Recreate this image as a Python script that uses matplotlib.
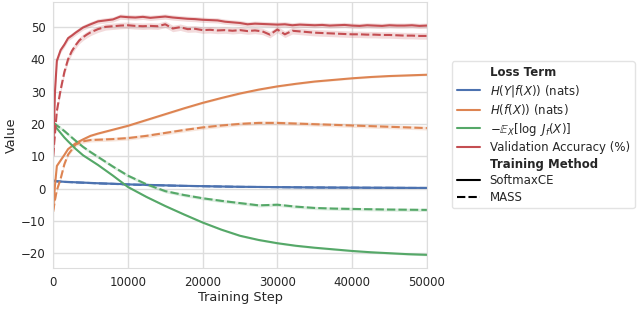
import matplotlib
matplotlib.use("Agg")
import matplotlib.pyplot as plt
from matplotlib.lines import Line2D
import seaborn as sns

sns.set_style("whitegrid")
plt.rcParams['font.family'] = ['DejaVu Sans']

# ---------------- data ----------------
steps_coarse = [0, 250, 500, 1000, 1500, 2000, 3000, 4000, 5000, 6000, 8000, 10000,
                12500, 15000, 17500, 20000, 22500, 25000, 27500, 30000, 32500, 35000,
                37500, 40000, 42500, 45000, 47500, 50000]

hyf_softmax = [2.5, 2.4, 2.3, 2.2, 2.1, 2.05, 1.95, 1.85, 1.75, 1.65, 1.5, 1.3, 1.15, 1.0,
               0.85, 0.75, 0.65, 0.55, 0.5, 0.45, 0.4, 0.35, 0.32, 0.3, 0.27, 0.25, 0.22, 0.2]
hyf_mass = [2.3, 2.25, 2.2, 2.1, 2.05, 2.0, 1.9, 1.8, 1.7, 1.6, 1.45, 1.25, 1.1, 0.95,
            0.82, 0.72, 0.62, 0.53, 0.48, 0.43, 0.38, 0.33, 0.3, 0.28, 0.25, 0.23, 0.2, 0.18]

hf_softmax = [-6.5, 1.0, 7.0, 8.7, 10.4, 12.2, 14.0, 15.2, 16.3, 17.0, 18.2, 19.4, 21.2,
              23.0, 24.8, 26.5, 28.0, 29.4, 30.6, 31.6, 32.4, 33.1, 33.6, 34.1, 34.5,
              34.8, 35.0, 35.2]
hf_mass = [-7.2, -3.5, -0.5, 3.0, 7.5, 10.5, 13.6, 14.6, 15.0, 15.1, 15.3, 15.6, 16.3,
           17.2, 18.1, 18.9, 19.5, 20.0, 20.3, 20.3, 20.1, 19.9, 19.7, 19.5, 19.3,
           19.1, 18.9, 18.7]

jac_softmax = [19.8, 19.3, 18.6, 17.2, 15.8, 14.6, 12.3, 10.3, 8.8, 7.3, 4.0, 0.5, -2.6,
               -5.4, -8.0, -10.5, -12.7, -14.6, -15.9, -16.9, -17.7, -18.3, -18.8,
               -19.3, -19.7, -20.0, -20.3, -20.5]
jac_mass = [20.3, 20.0, 19.5, 18.7, 17.8, 16.8, 14.8, 12.9, 11.3, 9.8, 6.8, 4.0, 1.3,
            -0.8, -2.0, -3.0, -3.8, -4.5, -5.2, -5.0, -5.6, -6.0, -6.2, -6.3, -6.4,
            -6.5, -6.55, -6.6]

steps_fine = [0, 250, 500, 1000, 1500, 2000, 2500, 3000, 3500, 4000, 4500, 5000] + \
             list(range(6000, 50001, 1000))

acc_softmax = [10.0, 30.0, 39.5, 42.8, 44.5, 46.5, 47.3, 48.2, 49.0, 49.8, 50.3, 50.8,
               51.7, 52.0, 52.3, 53.2, 53.0, 52.9, 53.1, 52.8, 53.0, 53.2, 52.9, 52.7,
               52.5, 52.4, 52.2, 52.1, 52.0, 51.6, 51.4, 51.2, 50.8, 51.0, 50.9, 50.8,
               50.7, 50.8, 50.5, 50.7, 50.6, 50.5, 50.6, 50.4, 50.5, 50.6, 50.4, 50.3,
               50.5, 50.4, 50.3, 50.5, 50.4, 50.4, 50.5, 50.3, 50.4]
acc_mass = [10.0, 17.0, 24.0, 30.5, 36.0, 40.0, 42.5, 44.3, 45.8, 46.8, 47.6, 48.3,
            49.3, 50.0, 50.2, 50.4, 50.5, 50.3, 50.2, 50.3, 50.2, 50.8, 49.5, 49.9,
            49.3, 49.4, 49.0, 49.1, 48.9, 49.0, 48.8, 49.0, 48.7, 48.9, 48.6, 47.6,
            49.2, 47.7, 48.8, 48.6, 48.4, 48.2, 48.1, 48.0, 47.9, 47.8, 47.7, 47.7,
            47.6, 47.6, 47.5, 47.5, 47.4, 47.3, 47.3, 47.2, 47.2]

term_labels = [r"$H(Y|f(X))$ (nats)", r"$H(f(X))$ (nats)",
               r"$-\mathbb{E}_X[\log\ J_f(X)]$", "Validation Accuracy (%)"]
method_labels = ["SoftmaxCE", "MASS"]
band_softmax = [0.15, 0.3, 0.3, 0.8]
band_mass = [0.15, 0.6, 0.5, 1.0]

# ---------------- plot ----------------
colors = sns.color_palette("deep")[:4]
fig = plt.figure(figsize=(6.4, 3.09), dpi=100)
ax = fig.add_axes([0.083, 0.133, 0.584, 0.861])

series = [
    (steps_coarse, hyf_softmax, hyf_mass),
    (steps_coarse, hf_softmax, hf_mass),
    (steps_coarse, jac_softmax, jac_mass),
    (steps_fine, acc_softmax, acc_mass),
]
dash = (0, (4, 1.5))
for i, (xs, ys_s, ys_m) in enumerate(series):
    c = colors[i]
    for ys, ls, bw in ((ys_s, '-', band_softmax[i]), (ys_m, dash, band_mass[i])):
        lo = [v - bw for v in ys]
        hi = [v + bw for v in ys]
        ax.fill_between(xs, lo, hi, color=c, alpha=0.2, lw=0)
        ax.plot(xs, ys, color=c, lw=1.5, linestyle=ls)

ax.set_xlim(0, 50000)
ax.set_xlabel("Training Step", fontsize=9.3, labelpad=2)
ax.set_ylabel("Value", fontsize=9.3, labelpad=2)
ax.tick_params(labelsize=8.5, pad=2)
for s in ax.spines.values():
    s.set_color('#dddddd')
ax.grid(color='#dddddd', lw=1.0)

blank = Line2D([], [], color='none')
handles = [blank] + [Line2D([], [], color=colors[i], lw=1.5) for i in range(4)] + \
          [blank, Line2D([], [], color='k', lw=1.5),
           Line2D([], [], color='k', lw=1.5, linestyle=dash)]
labels = ["Loss Term"] + term_labels + ["Training Method"] + method_labels
leg = ax.legend(handles, labels, loc='center left', bbox_to_anchor=(1.067, 0.5),
                fontsize=8.5, frameon=True, borderaxespad=0, labelspacing=0.3)
leg.get_frame().set_edgecolor('#dddddd')
for t in leg.get_texts():
    if t.get_text() in ("Loss Term", "Training Method"):
        t.set_fontweight('bold')

fig.savefig("out.png", dpi=100)
